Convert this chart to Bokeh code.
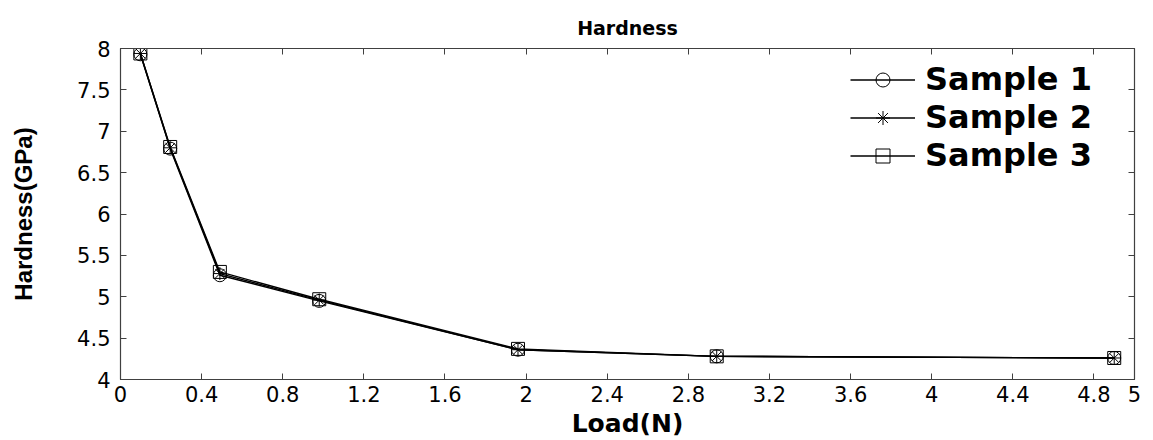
from bokeh.plotting import figure
from bokeh.models import (LinearAxis, FixedTicker, Legend, LegendItem, Range1d,
                          CustomJSTickFormatter, CustomLabelingPolicy)
from bokeh.embed import file_html
from bokeh.resources import INLINE

# Data
load_n = [0.098, 0.245, 0.49, 0.98, 1.96, 2.94, 4.9]
sample1 = [7.93, 6.79, 5.26, 4.95, 4.36, 4.28, 4.26]
sample2 = [7.94, 6.80, 5.28, 4.96, 4.36, 4.28, 4.26]
sample3 = [7.94, 6.81, 5.30, 4.97, 4.37, 4.28, 4.26]
series_names = ["Sample 1", "Sample 2", "Sample 3"]
x_ticks = [0, 0.4, 0.8, 1.2, 1.6, 2.0, 2.4, 2.8, 3.2, 3.6, 4.0, 4.4, 4.8, 5.0]
y_ticks = [4, 4.5, 5, 5.5, 6, 6.5, 7, 7.5, 8]

FONT = "DejaVu Sans"
YFONT = "Liberation Sans"

p = figure(width=1153, height=440, output_backend="svg", toolbar_location=None,
           x_range=Range1d(0, 5), y_range=Range1d(4, 8),
           min_border_left=120, min_border_right=19, min_border_top=48, min_border_bottom=61,
           x_axis_label="Load(N)", y_axis_label="Hardness(GPa)", title="Hardness")

p.background_fill_color = "white"
p.border_fill_color = "white"
p.outline_line_color = "#404040"
p.outline_line_width = 1.2
p.grid.visible = False

p.title.align = "center"
p.title.text_font = FONT
p.title.text_font_size = "19px"
p.title.text_font_style = "bold"
p.title.text_color = "black"
p.title.standoff = 19

fmt = CustomJSTickFormatter(code="return (Math.round(tick*10)/10).toString();")

for ax in [p.xaxis[0], p.yaxis[0]]:
    ax.major_tick_in = 6
    ax.major_tick_out = 0
    ax.minor_tick_in = 0
    ax.minor_tick_out = 0
    ax.axis_line_color = "#404040"
    ax.major_tick_line_color = "#404040"
    ax.major_label_text_font = FONT
    ax.major_label_text_font_size = "21px"
    ax.major_label_text_color = "black"
    ax.axis_label_text_font_style = "bold"
    ax.axis_label_text_color = "black"
    ax.formatter = fmt

p.xaxis[0].ticker = FixedTicker(ticks=x_ticks)
p.yaxis[0].ticker = FixedTicker(ticks=y_ticks)
p.xaxis[0].major_label_standoff = 6
p.xaxis[0].axis_label_standoff = 4
p.xaxis[0].axis_label_text_font = FONT
p.xaxis[0].axis_label_text_font_size = "25px"
p.yaxis[0].major_label_standoff = 10
p.yaxis[0].axis_label_standoff = 37
p.yaxis[0].axis_label_text_font = YFONT
p.yaxis[0].axis_label_text_font_size = "24px"

hide_all = CustomLabelingPolicy(code="""
if (indices.clear) { indices.clear() } else { for (const i of Array.from(indices)) indices.unset(i) }
return indices
""")

top_ax = LinearAxis(ticker=FixedTicker(ticks=x_ticks), major_label_text_font_size="0px",
                    major_label_policy=hide_all,
                    major_tick_in=6, major_tick_out=0, minor_tick_in=0, minor_tick_out=0,
                    axis_line_color="#404040", major_tick_line_color="#404040",
                    major_label_standoff=0)
right_ax = LinearAxis(ticker=FixedTicker(ticks=y_ticks), major_label_text_font_size="0px",
                      major_label_policy=hide_all,
                      major_tick_in=6, major_tick_out=0, minor_tick_in=0, minor_tick_out=0,
                      axis_line_color="#404040", major_tick_line_color="#404040",
                      major_label_standoff=0)
p.add_layout(top_ax, "above")
p.add_layout(right_ax, "right")

markers = ["circle", "asterisk", "square"]
all_series = [sample1, sample2, sample3]
items = []
for name, ys, mk in zip(series_names, all_series, markers):
    ln = p.line(load_n, ys, line_color="black", line_width=1.4)
    sc = p.scatter(load_n, ys, marker=mk, size=13, line_color="black", fill_color=None, line_width=1)
    items.append(LegendItem(label=name, renderers=[ln, sc]))

legend = Legend(items=items, location=(730, 205), orientation="vertical",
                label_text_font=FONT, label_text_font_size="32px", label_text_font_style="bold",
                label_text_color="black", glyph_width=65, glyph_height=35, label_height=35,
                label_standoff=10, spacing=0, padding=0, margin=0,
                border_line_color=None, background_fill_alpha=0)
p.add_layout(legend, "center")

open("out.html", "w").write(file_html(p, INLINE))
